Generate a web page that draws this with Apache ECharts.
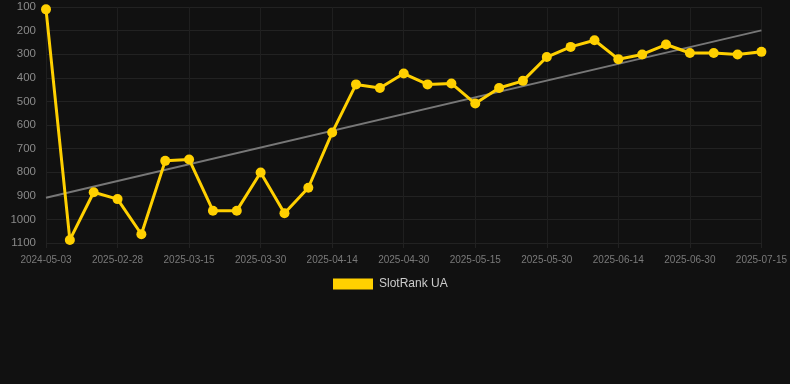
<!DOCTYPE html>
<html>
<head>
<meta charset="utf-8">
<script src="https://cdn.jsdelivr.net/npm/echarts@6/dist/echarts.min.js"></script>
<style>
html,body{margin:0;padding:0;background:#111111;}
#c{width:790px;height:384px;}
</style>
</head>
<body>
<div id="c"></div>
<script>
const categories = ["2024-05-03","2025-02-18","2025-02-23","2025-02-28","2025-03-05","2025-03-10","2025-03-15","2025-03-20","2025-03-25","2025-03-30","2025-04-04","2025-04-09","2025-04-14","2025-04-19","2025-04-25","2025-04-30","2025-05-05","2025-05-10","2025-05-15","2025-05-20","2025-05-25","2025-05-30","2025-06-04","2025-06-09","2025-06-14","2025-06-19","2025-06-25","2025-06-30","2025-07-05","2025-07-10","2025-07-15"];
const rankValues = [110,1087,885,914,1063,752,746,963,963,801,974,866,632,428,443,382,428,424,509,443,413,312,269,241,321,301,259,295,295,301,290];
const trendValues = [908,199];
const seriesName = "SlotRank UA";

const chart = echarts.init(document.getElementById('c'));
chart.setOption({
  backgroundColor: '#111111',
  animation: false,
  grid: {left: 46, right: 28, top: 7, bottom: 141, containLabel: false},
  legend: {
    data: [seriesName],
    top: 273,
    left: 328,
    icon: 'rect',
    itemWidth: 40,
    itemHeight: 11,
    itemGap: 10,
    textStyle: {color: '#cccccc', fontSize: 12, padding: [0,0,0,1], fontFamily: 'Liberation Sans, Arial, sans-serif'}
  },
  xAxis: {
    type: 'category',
    data: categories,
    boundaryGap: false,
    axisLine: {show: false},
    axisTick: {show: true, interval: 2, lineStyle: {color: '#222222'}},
    axisLabel: {interval: 2, color: '#7a7a7a', fontSize: 10, margin: 12, fontFamily: 'Liberation Sans, Arial, sans-serif'},
    splitLine: {show: true, interval: 2, lineStyle: {color: '#1f1f1f', width: 1}}
  },
  yAxis: {
    type: 'value',
    inverse: true,
    min: 100,
    max: 1100,
    interval: 100,
    axisLine: {show: false},
    axisTick: {show: false},
    axisLabel: {color: '#8a8a8a', fontSize: 11.5, margin: 10, formatter: v => String(v), fontFamily: 'Liberation Sans, Arial, sans-serif'},
    splitLine: {show: true, lineStyle: {color: '#222222', width: 1}}
  },
  series: [
    {
      name: 'trend',
      type: 'line',
      data: [[categories[0], trendValues[0]], [categories[categories.length-1], trendValues[1]]],
      symbol: 'none',
      lineStyle: {color: '#777777', width: 2},
      z: 1,
      silent: true
    },
    {
      name: seriesName,
      type: 'line',
      data: rankValues,
      symbol: 'circle',
      symbolSize: 10,
      itemStyle: {color: '#FFD000'},
      lineStyle: {color: '#FFD000', width: 3},
      z: 2
    }
  ]
});
</script>
</body>
</html>
